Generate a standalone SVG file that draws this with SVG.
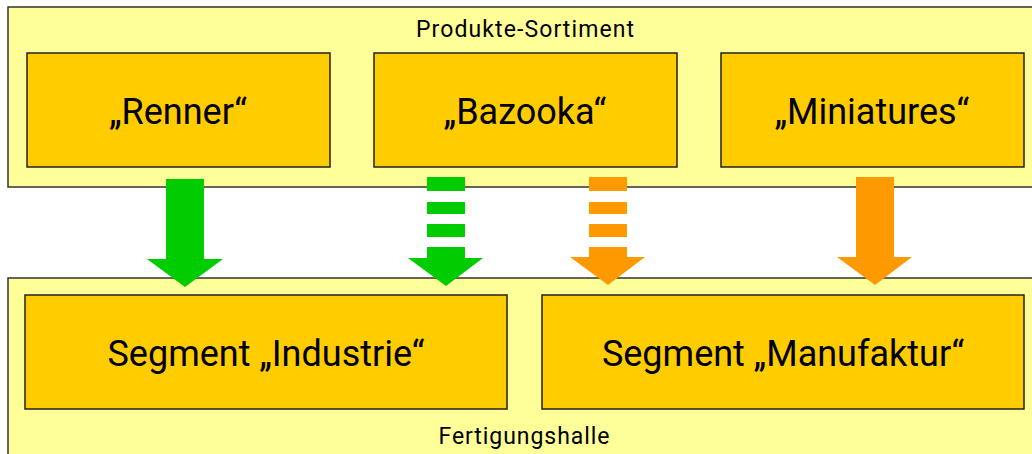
<svg xmlns="http://www.w3.org/2000/svg" width="1032" height="454" viewBox="0 0 1032 454">
<style>
.cont{fill:#FFFF99;stroke:#333;stroke-width:1.5}
.box{fill:#FFCC00;stroke:#222;stroke-width:1.5}
text{font-family:Roboto,"Liberation Sans",sans-serif;fill:#000;text-anchor:middle}
.small{font-size:23px}
.big{font-size:36px}
.green{fill:#00CC00}
.orange{fill:#FF9900}
</style>
<rect width="1032" height="454" fill="#fff"/>
<g id="produkte-sortiment">
<rect class="cont" x="8" y="7" width="1030" height="180"/>
<text class="small" x="525" y="37" textLength="218">Produkte-Sortiment</text>
</g>
<g id="fertigungshalle">
<rect class="cont" x="8" y="278" width="1030" height="190"/>
<text class="small" x="524" y="444" textLength="171">Fertigungshalle</text>
</g>
<g id="renner">
<rect class="box" x="27" y="53" width="303" height="114"/>
<text class="big" x="178" y="124">„Renner“</text>
</g>
<g id="bazooka">
<rect class="box" x="374" y="53" width="303" height="114"/>
<text class="big" x="525" y="124">„Bazooka“</text>
</g>
<g id="miniatures">
<rect class="box" x="721" y="53" width="303" height="114"/>
<text class="big" x="872" y="124">„Miniatures“</text>
</g>
<g id="segment-industrie">
<rect class="box" x="25" y="295" width="482" height="114"/>
<text class="big" x="266" y="366">Segment „Industrie“</text>
</g>
<g id="segment-manufaktur">
<rect class="box" x="542" y="295" width="482" height="114"/>
<text class="big" x="783" y="366">Segment „Manufaktur“</text>
</g>
<g id="connectors">
<polygon class="green" points="166,179 204,179 204,259 223,259 185,287 147,259 166,259"/>
<g class="green">
<rect x="427" y="177" width="38" height="14"/>
<rect x="427" y="202" width="38" height="12"/>
<rect x="427" y="224" width="38" height="13"/>
<polygon points="427,247 465,247 465,258 483,258 446,286 408,258 427,258"/>
</g>
<g class="orange">
<rect x="589" y="177" width="38" height="14"/>
<rect x="589" y="202" width="38" height="12"/>
<rect x="589" y="224" width="38" height="13"/>
<polygon points="589,247 627,247 627,257 645,257 608,285 570,257 589,257"/>
</g>
<polygon class="orange" points="856,177 894,177 894,257 912,257 875,285 837,257 856,257"/>
</g>
</svg>
